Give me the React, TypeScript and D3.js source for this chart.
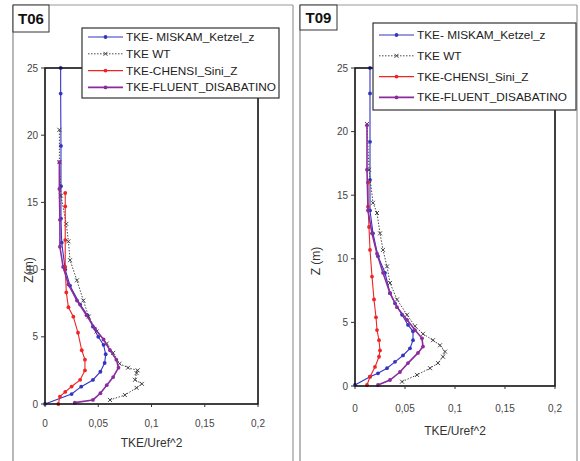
import React from 'react';
import * as d3 from 'd3';

// [TKE/Uref^2, Z (m)] pairs
const t06Miskam: [number, number][] = [[0,0],[0.025,0.74],[0.034,1.29],[0.045,1.79],[0.052,2.4],[0.056,3.05],[0.057,3.7],[0.055,4.4],[0.05,5.0],[0.045,5.75],[0.04,6.6],[0.033,7.4],[0.0235,8.8],[0.019,10],[0.0157,12],[0.015,13.8],[0.015,16.2],[0.015,19.2],[0.0147,23.1],[0.0147,25]];
const t06Wt: [number, number][] = [[0.061,0.3],[0.075,0.67],[0.086,1.2],[0.091,1.5],[0.0845,1.8],[0.086,2.3],[0.087,2.5],[0.078,2.7],[0.07,3.0],[0.064,3.8],[0.058,4.5],[0.0485,5.4],[0.041,6.5],[0.036,7.7],[0.03,9.2],[0.0235,10.7],[0.022,12.1],[0.02,13.4],[0.015,15.5],[0.0135,18],[0.0135,20.4]];
const t06Chensi: [number, number][] = [[0.0125,0],[0.014,0.55],[0.019,0.9],[0.025,1.3],[0.033,1.8],[0.0375,2.5],[0.0375,3.3],[0.0345,4.0],[0.031,5.3],[0.0266,6.5],[0.022,7.2],[0.02,8.3],[0.019,10.2],[0.019,12.2],[0.019,14.7],[0.019,15.7]];
const t06Fluent: [number, number][] = [[0.028,0.1],[0.045,0.3],[0.052,0.8],[0.058,1.4],[0.064,2.0],[0.069,2.7],[0.067,3.3],[0.061,4.0],[0.055,4.8],[0.047,5.6],[0.039,6.6],[0.03,7.7],[0.022,8.9],[0.017,10.2],[0.014,11.7],[0.014,13.7],[0.0135,16],[0.0135,18]];

const t09Miskam: [number, number][] = [[0,0.08],[0.015,0.73],[0.023,1.0],[0.032,1.4],[0.04,1.9],[0.048,2.4],[0.055,2.96],[0.058,3.6],[0.058,4.3],[0.053,4.8],[0.047,5.6],[0.04,6.5],[0.035,7.3],[0.03,8.9],[0.023,10.2],[0.018,12],[0.015,13.8],[0.015,16.2],[0.015,19.2],[0.015,23],[0.015,25]];
const t09Wt: [number, number][] = [[0.047,0.34],[0.062,0.87],[0.075,1.4],[0.083,1.8],[0.088,2.3],[0.09,2.7],[0.085,3.2],[0.078,3.6],[0.068,4.1],[0.06,4.7],[0.052,5.6],[0.042,6.8],[0.035,8.1],[0.032,9.4],[0.028,10.7],[0.025,12],[0.022,13.6],[0.018,14.4],[0.014,17],[0.012,20.6]];
const t09Chensi: [number, number][] = [[0.012,0.08],[0.015,0.73],[0.02,1.5],[0.024,2.3],[0.025,2.8],[0.024,3.6],[0.022,4.4],[0.021,5.4],[0.019,6.8],[0.017,8.6],[0.015,10.7],[0.014,12.5],[0.013,14.1],[0.013,16]];
const t09Fluent: [number, number][] = [[0.023,0.08],[0.035,0.47],[0.045,1.1],[0.053,1.8],[0.063,2.6],[0.068,3.1],[0.067,3.75],[0.06,4.4],[0.052,5.2],[0.042,6.2],[0.035,7.3],[0.028,8.9],[0.022,10.4],[0.017,12],[0.013,13.8],[0.012,17],[0.012,20.5]];

const seriesNames = ['TKE- MISKAM_Ketzel_z', 'TKE WT', 'TKE-CHENSI_Sini_Z', 'TKE-FLUENT_DISABATINO'];
const xTicks = [0, 0.05, 0.1, 0.15, 0.2];
const yTicks = [0, 5, 10, 15, 20, 25];

const styles = [
  { color: '#3434c4', width: 1.1, dash: null, marker: 'dot' },
  { color: '#333333', width: 0.9, dash: '1.5,1.5', marker: 'x' },
  { color: '#f02424', width: 1.1, dash: null, marker: 'dot' },
  { color: '#8a2c9c', width: 1.6, dash: null, marker: 'dot' },
];

const panels = [
  {
    title: 'T06', yLabel: 'Z(m)', series: [t06Miskam, t06Wt, t06Chensi, t06Fluent],
    box: { x0: 13, x1: 293 }, titleBox: { x: 13, y: 5, w: 36, h: 27 },
    plot: { x0: 45, x1: 258, y0: 68, y1: 404 },
    legend: { x: 82, y: 28, w: 197, h: 70, rowY: 37, step: 16.8 },
    xLabelY: 427, xTitleY: 447, yLabelX: 33,
  },
  {
    title: 'T09', yLabel: 'Z (m)', series: [t09Miskam, t09Wt, t09Chensi, t09Fluent],
    box: { x0: 300, x1: 577 }, titleBox: { x: 300, y: 5, w: 37, h: 25 },
    plot: { x0: 355, x1: 555, y0: 68, y1: 386 },
    legend: { x: 373, y: 23, w: 203, h: 87, rowY: 35, step: 20.8 },
    xLabelY: 412, xTitleY: 435, yLabelX: 320,
  },
];

const fmt = (v: number) => String(+v.toFixed(2)).replace('.', ',');

function Marker({ kind, x, y, color }: { kind: string; x: number; y: number; color: string }) {
  if (kind === 'x') {
    return (
      <g stroke={color} strokeWidth={0.9}>
        <line x1={x - 2} y1={y - 2} x2={x + 2} y2={y + 2} />
        <line x1={x - 2} y1={y + 2} x2={x + 2} y2={y - 2} />
      </g>
    );
  }
  return <circle cx={x} cy={y} r={1.9} fill={color} />;
}

function Panel({ p }: { p: typeof panels[number] }) {
  const x = d3.scaleLinear().domain([0, 0.2]).range([p.plot.x0, p.plot.x1]);
  const y = d3.scaleLinear().domain([0, 25]).range([p.plot.y1, p.plot.y0]);
  const line = d3.line<[number, number]>().x(d => x(d[0])).y(d => y(d[1]));
  const font = 'Liberation Sans, Arial, sans-serif';
  const L = p.legend;

  return (
    <g fontFamily={font}>
      {/* panel frame */}
      <line x1={p.box.x0} y1={5} x2={p.box.x0} y2={461} stroke="#888" strokeWidth={1.2} />
      <line x1={p.box.x1} y1={5} x2={p.box.x1} y2={461} stroke="#999" strokeWidth={1.2} />
      <line x1={p.box.x0} y1={5} x2={p.box.x1} y2={5} stroke="#999" strokeWidth={1.2} />
      <rect x={p.titleBox.x} y={p.titleBox.y} width={p.titleBox.w} height={p.titleBox.h} fill="#fff" stroke="#333" strokeWidth={1} />
      <text x={p.titleBox.x + p.titleBox.w / 2} y={p.titleBox.y + p.titleBox.h / 2 + 5.5} textAnchor="middle" fontSize={15} fontWeight="bold" fill="#111">{p.title}</text>

      {/* series */}
      {p.series.map((data, i) => {
        const s = styles[i];
        return (
          <g key={i}>
            <path d={line(data) || ''} fill="none" stroke={s.color} strokeWidth={s.width} strokeDasharray={s.dash || undefined} />
            {data.map((d, j) => <Marker key={j} kind={s.marker} x={x(d[0])} y={y(d[1])} color={s.color} />)}
          </g>
        );
      })}

      {/* plot frame */}
      <rect x={p.plot.x0} y={p.plot.y0} width={p.plot.x1 - p.plot.x0} height={p.plot.y1 - p.plot.y0} fill="none" stroke="#111" strokeWidth={1.6} />

      {/* axes */}
      {yTicks.map(t => (
        <g key={'y' + t}>
          <line x1={p.plot.x0 - 4} x2={p.plot.x0} y1={y(t)} y2={y(t)} stroke="#333" />
          <text x={p.plot.x0 - 7} y={y(t) + 3.5} textAnchor="end" fontSize={10} fill="#444">{t}</text>
        </g>
      ))}
      {xTicks.map(t => (
        <g key={'x' + t}>
          <line x1={x(t)} x2={x(t)} y1={p.plot.y1} y2={p.plot.y1 + 3} stroke="#333" />
          <text x={x(t)} y={p.xLabelY} textAnchor="middle" fontSize={10} fill="#444">{fmt(t)}</text>
        </g>
      ))}
      <text x={(p.plot.x0 + p.plot.x1) / 2} y={p.xTitleY} textAnchor="middle" fontSize={12} fill="#333">TKE/Uref^2</text>
      <text transform={`translate(${p.yLabelX},${(p.plot.y0 + p.plot.y1) / 2 + 34}) rotate(-90)`} textAnchor="middle" fontSize={12} fill="#333">{p.yLabel}</text>

      {/* legend */}
      <rect x={L.x} y={L.y} width={L.w} height={L.h} fill="#fff" stroke="#333" strokeWidth={1.2} />
      {seriesNames.map((name, i) => {
        const s = styles[i];
        const ry = L.rowY + i * L.step;
        return (
          <g key={name}>
            <line x1={L.x + 6} x2={L.x + 41} y1={ry} y2={ry} stroke={s.color} strokeWidth={s.width} strokeDasharray={s.dash || undefined} />
            <Marker kind={s.marker} x={L.x + 23.5} y={ry} color={s.color} />
            <text x={L.x + 44} y={ry + 4} fontSize={11.8} fill="#222">{name}</text>
          </g>
        );
      })}
    </g>
  );
}

export default function App() {
  return (
    <svg width={580} height={461} style={{ position: 'absolute', left: 0, top: 0, background: '#fff' }}>
      <rect width={580} height={461} fill="#fff" />
      {panels.map(p => <Panel key={p.title} p={p} />)}
    </svg>
  );
}
